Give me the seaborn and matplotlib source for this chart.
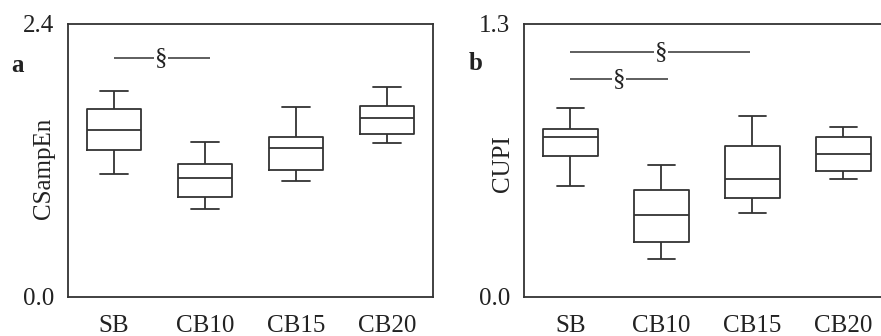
import numpy as np
import pandas as pd
import matplotlib
matplotlib.use('Agg')
import matplotlib.pyplot as plt
import seaborn as sns

# groups and five-number summaries (whisker low, Q1, median, Q3, whisker high)
groups = ['SB', 'CB10', 'CB15', 'CB20']

csampen_sb = [1.08, 1.29, 1.47, 1.65, 1.81]
csampen_cb10 = [0.77, 0.88, 1.05, 1.17, 1.36]
csampen_cb15 = [1.02, 1.12, 1.31, 1.41, 1.67]
csampen_cb20 = [1.35, 1.43, 1.57, 1.68, 1.85]

cupi_sb = [0.53, 0.67, 0.76, 0.80, 0.90]
cupi_cb10 = [0.18, 0.26, 0.39, 0.51, 0.63]
cupi_cb15 = [0.40, 0.47, 0.56, 0.72, 0.86]
cupi_cb20 = [0.56, 0.60, 0.68, 0.76, 0.81]

# significance brackets: (from group, to group, height, symbol x)
sig_a = [(0, 1.05, 2.10, 0.52)]
sig_b = [(0, 1.98, 1.165, 1.0), (0, 1.07, 1.037, 0.54)]

ylims_a = [0.0, 2.4]
ylims_b = [0.0, 1.3]


def long_form(values_by_group, name):
    rows = []
    for g, vals in zip(groups, values_by_group):
        for v in vals:
            rows.append({'group': g, name: v})
    return pd.DataFrame(rows)


df_a = long_form([csampen_sb, csampen_cb10, csampen_cb15, csampen_cb20], 'CSampEn')
df_b = long_form([cupi_sb, cupi_cb10, cupi_cb15, cupi_cb20], 'CUPI')

sns.set_style('white')
plt.rcParams['font.family'] = ['Liberation Serif', 'DejaVu Serif']
plt.rcParams['font.size'] = 18

ink = '#333333'
fig = plt.figure(figsize=(8.81, 3.36), dpi=100)
ax_a = fig.add_axes([0.0772, 0.1161, 0.4143, 0.8125])
ax_b = fig.add_axes([0.5951, 0.1161, 0.4143, 0.8125])

panels = [
    (ax_a, df_a, 'CSampEn', ylims_a, sig_a, (-0.036, 0.47)),
    (ax_b, df_b, 'CUPI', ylims_b, sig_b, (-0.028, 0.487)),
]

for ax, df, col, ylims, sigs, label_xy in panels:
    sns.boxplot(data=df, x='group', y=col, order=groups, ax=ax,
                width=0.6, whis=(0, 100), fill=False, color=ink,
                linecolor=ink, linewidth=1.3, showfliers=False)
    ax.set_xlim(-0.505, 3.505)
    ax.set_ylim(*ylims)
    ax.set_yticks(ylims)
    ax.set_yticklabels([f'{v:.1f}' for v in ylims])
    ax.tick_params(length=0, labelsize=18, colors='#222222')
    ax.tick_params(axis='x', pad=13)
    ax.tick_params(axis='y', pad=10)
    ax.set_xlabel('')
    ax.set_ylabel(col, fontsize=18, color='#222222')
    ax.yaxis.set_label_coords(*label_xy)
    for s in ax.spines.values():
        s.set_visible(True)
        s.set_color(ink)
        s.set_linewidth(1.3)
    for x0, x1, h, xs in sigs:
        ax.plot([x0, x1], [h, h], color=ink, lw=1.1, solid_capstyle='butt')
        ax.text(xs, h, '\u00a7', ha='center', va='center', fontsize=18,
                color='#222222',
                bbox=dict(facecolor='white', edgecolor='none', pad=0.5))

fig.text(18 / 881, 1 - 65 / 336, 'a', fontsize=18, fontweight='bold',
         ha='center', va='center', color='#222222')
fig.text(476 / 881, 1 - 63 / 336, 'b', fontsize=18, fontweight='bold',
         ha='center', va='center', color='#222222')

fig.savefig('out.png', dpi=100)
